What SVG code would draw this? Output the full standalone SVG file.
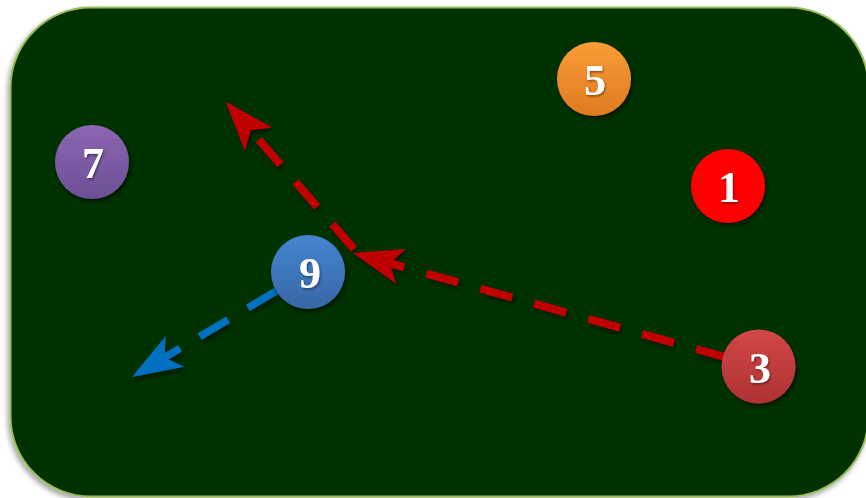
<svg xmlns="http://www.w3.org/2000/svg" width="866" height="498" viewBox="0 0 866 498">
  <defs>
    <filter id="bgShadow" x="-5%" y="-5%" width="110%" height="110%">
      <feDropShadow dx="-2" dy="3" stdDeviation="2.5" flood-color="#000" flood-opacity="0.35"/>
    </filter>
    <filter id="sh" x="-30%" y="-30%" width="160%" height="160%">
      <feDropShadow dx="2" dy="3" stdDeviation="2.5" flood-color="#000" flood-opacity="0.55"/>
    </filter>
    <filter id="tsh" x="-30%" y="-30%" width="160%" height="160%">
      <feDropShadow dx="1" dy="1.5" stdDeviation="1" flood-color="#000" flood-opacity="0.45"/>
    </filter>
    <linearGradient id="gOrange" x1="0" y1="0" x2="0" y2="1">
      <stop offset="0" stop-color="#fa9c37"/>
      <stop offset="1" stop-color="#df7a22"/>
    </linearGradient>
    <linearGradient id="gPurple" x1="0" y1="0" x2="0" y2="1">
      <stop offset="0" stop-color="#8c66b2"/>
      <stop offset="1" stop-color="#6c4f96"/>
    </linearGradient>
    <linearGradient id="gBlue" x1="0" y1="0" x2="0" y2="1">
      <stop offset="0" stop-color="#4585cf"/>
      <stop offset="1" stop-color="#3766a6"/>
    </linearGradient>
    <linearGradient id="gRed" x1="0" y1="0" x2="0" y2="1">
      <stop offset="0" stop-color="#d24747"/>
      <stop offset="1" stop-color="#ae3232"/>
    </linearGradient>
    <marker id="arRed" markerUnits="userSpaceOnUse" viewBox="-13 -19 52 38" refX="0" refY="0" markerWidth="52" markerHeight="38" orient="auto" overflow="visible">
      <path d="M38,0 L-12,-18 L0,0 L-12,18 Z" fill="#c00000"/>
    </marker>
    <marker id="arBlue" markerUnits="userSpaceOnUse" viewBox="-13 -19 52 38" refX="0" refY="0" markerWidth="52" markerHeight="38" orient="auto" overflow="visible">
      <path d="M38,0 L-12,-18 L0,0 L-12,18 Z" fill="#0070c0"/>
    </marker>
  </defs>
  <style>
    .node circle { filter: url(#sh); }
    .node text { font-family: "Liberation Serif", "Times New Roman", serif; font-weight: bold; font-size: 44px; fill: #ffffff; text-anchor: middle; filter: url(#tsh); }
    .red { fill: none; stroke: #c00000; stroke-width: 8; stroke-dasharray: 33 23; marker-end: url(#arRed); }
    .blue { fill: none; stroke: #0070c0; stroke-width: 7.5; stroke-dasharray: 33 23; marker-end: url(#arBlue); }
  </style>

  <rect x="10.5" y="7.5" width="858" height="489" rx="80" ry="80" fill="#003300" stroke="#9bbb59" stroke-width="2" filter="url(#bgShadow)"/>

  <g id="connectors" filter="url(#sh)">
    <path class="red" d="M727.9,357.9 L389.6,263.2"/>
    <path class="red" d="M354,249 L250.6,130.2"/>
    <path class="blue" d="M276.2,291 L164.6,357.5"/>
  </g>

  <g id="node5" class="node">
    <circle cx="594" cy="79" r="37" fill="url(#gOrange)"/>
    <text x="595" y="95">5</text>
  </g>
  <g id="node7" class="node">
    <circle cx="92" cy="162" r="37" fill="url(#gPurple)"/>
    <text x="93" y="178">7</text>
  </g>
  <g id="node1" class="node">
    <circle cx="728" cy="186" r="37" fill="#ff0000"/>
    <text x="729" y="202">1</text>
  </g>
  <g id="node9" class="node">
    <circle cx="308" cy="272" r="37" fill="url(#gBlue)"/>
    <text x="310" y="288">9</text>
  </g>
  <g id="node3" class="node">
    <circle cx="758.5" cy="366.5" r="37" fill="url(#gRed)"/>
    <text x="760" y="383">3</text>
  </g>
</svg>
